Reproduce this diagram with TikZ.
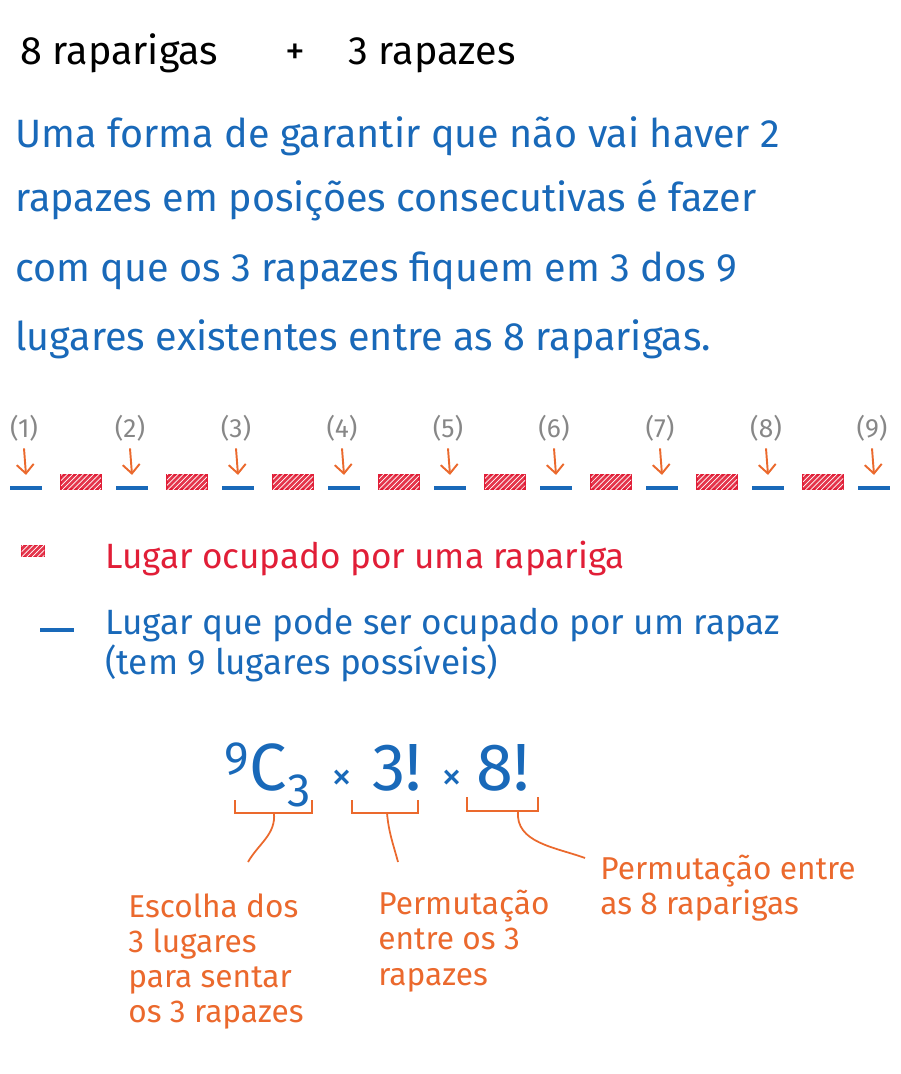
\documentclass[tikz,border=0pt]{standalone}
\usepackage{fontspec}
\setmainfont{Fira Sans}
\usetikzlibrary{arrows.meta, positioning, patterns}
\definecolor{inkblue}{RGB}{25,105,185}
\definecolor{inkred}{RGB}{225,30,55}
\definecolor{inkorange}{RGB}{235,105,45}
\definecolor{inkgray}{RGB}{135,135,135}

\begin{document}
\begin{tikzpicture}[x=0.02cm, y=-0.02cm,
  >={Straight Barb[length=1.8mm, width=3.4mm]},
  every node/.style={inner sep=0pt},
  line/.style={anchor=base west, font=\fontsize{22.5}{26}\selectfont},
  legend/.style={anchor=base west, font=\fontsize{20}{20}\selectfont},
  note/.style={anchor=base west, font=\fontsize{18}{20}\selectfont, text=inkorange},
  slot/.style={fill=inkblue, minimum width=0.64cm, minimum height=0.07cm},
  girl/.style={draw=inkred, line width=1.1pt, fill=inkred!90,
               postaction={pattern=north east lines, pattern color=white},
               minimum width=0.8cm, minimum height=0.29cm},
  num/.style={font=\fontsize{15}{17}\selectfont, text=inkgray},
  pick/.style={->, inkorange, line width=1.1pt},
  brk/.style={inkorange, line width=1pt}
]
\useasboundingbox[fill=white] (0,0) rectangle (900,1074);

% titulo e enunciado
\node[line] (title) at (20,65) {8 raparigas\hspace{1.7em}+\hspace{1.1em}3 rapazes};
\node[line, text=inkblue] (p1) at (15,148) {Uma forma de garantir que não vai haver 2};
\node[line, text=inkblue] (p2) at (15,212) {rapazes em posições consecutivas é fazer};
\node[line, text=inkblue] (p3) at (15,282) {com que os 3 rapazes fiquem em 3 dos 9};
\node[line, text=inkblue] (p4) at (15,350) {lugares existentes entre as 8 raparigas.};

% os 9 lugares entre as 8 raparigas
\foreach \i in {1,...,9}{
  \node[slot] (s\i) at ({26+106*(\i-1)},488) {};
  \node[num]  (n\i) at ({24+106*(\i-1)},428) {(\i)};
  \draw[pick] ([yshift=-4pt]n\i.south) -- ([yshift=0.22cm]s\i.north);
}
\foreach \i in {1,...,8}
  \node[girl] (g\i) at ({81+106*(\i-1)},482) {};

% legenda
\node[girl, minimum width=0.46cm, minimum height=0.22cm] (lg) at (33,551) {};
\node[legend, text=inkred] (lgt) at (105,568) {Lugar ocupado por uma rapariga};
\node[slot, minimum width=0.7cm] (ls) at (57,630) {};
\node[legend, text=inkblue] (lst) at (105,634) {Lugar que pode ser ocupado por um rapaz};
\node[legend, text=inkblue] (lst2) at (105,674) {(tem 9 lugares possíveis)};

% calculo
\node[anchor=base west, text=inkblue, font=\fontsize{38}{44}\selectfont] (calc) at (224,790)
  {\textsuperscript{9}C\textsubscript{3}\hspace{0.3em}{\fontsize{24}{26}\selectfont ×}\hspace{0.3em}3!\hspace{0.3em}{\fontsize{24}{26}\selectfont ×}\hspace{0.2em}8!};

\draw[brk] (235,800) -- (235,813) -- (312,813) -- (312,800);
\draw[brk] (352,800) -- (352,813) -- (418,813) -- (418,800);
\draw[brk] (467,797) -- (467,811) -- (538,811) -- (538,797);
\coordinate (b1) at (274,813); \coordinate (e1) at (248,862);
\coordinate (b2) at (387,813); \coordinate (e2) at (398,862);
\coordinate (b3) at (518,811); \coordinate (e3) at (585,858);
\draw[brk] (b1) to[out=-85, in=60] (e1);
\draw[brk] (b2) to[out=-85, in=105] (e2);
\draw[brk] (b3) to[out=-95, in=160] (e3);

\node[note, align=left, anchor=north west] (c1) at (128,893)
  {Escolha dos\\3 lugares\\para sentar\\os 3 rapazes};
\node[note, align=left, anchor=north west] (c2) at (378,890)
  {Permutação\\entre os 3\\rapazes};
\node[note, align=left, anchor=north west] (c3) at (600,855)
  {Permutação entre\\as 8 raparigas};
\end{tikzpicture}
\end{document}
